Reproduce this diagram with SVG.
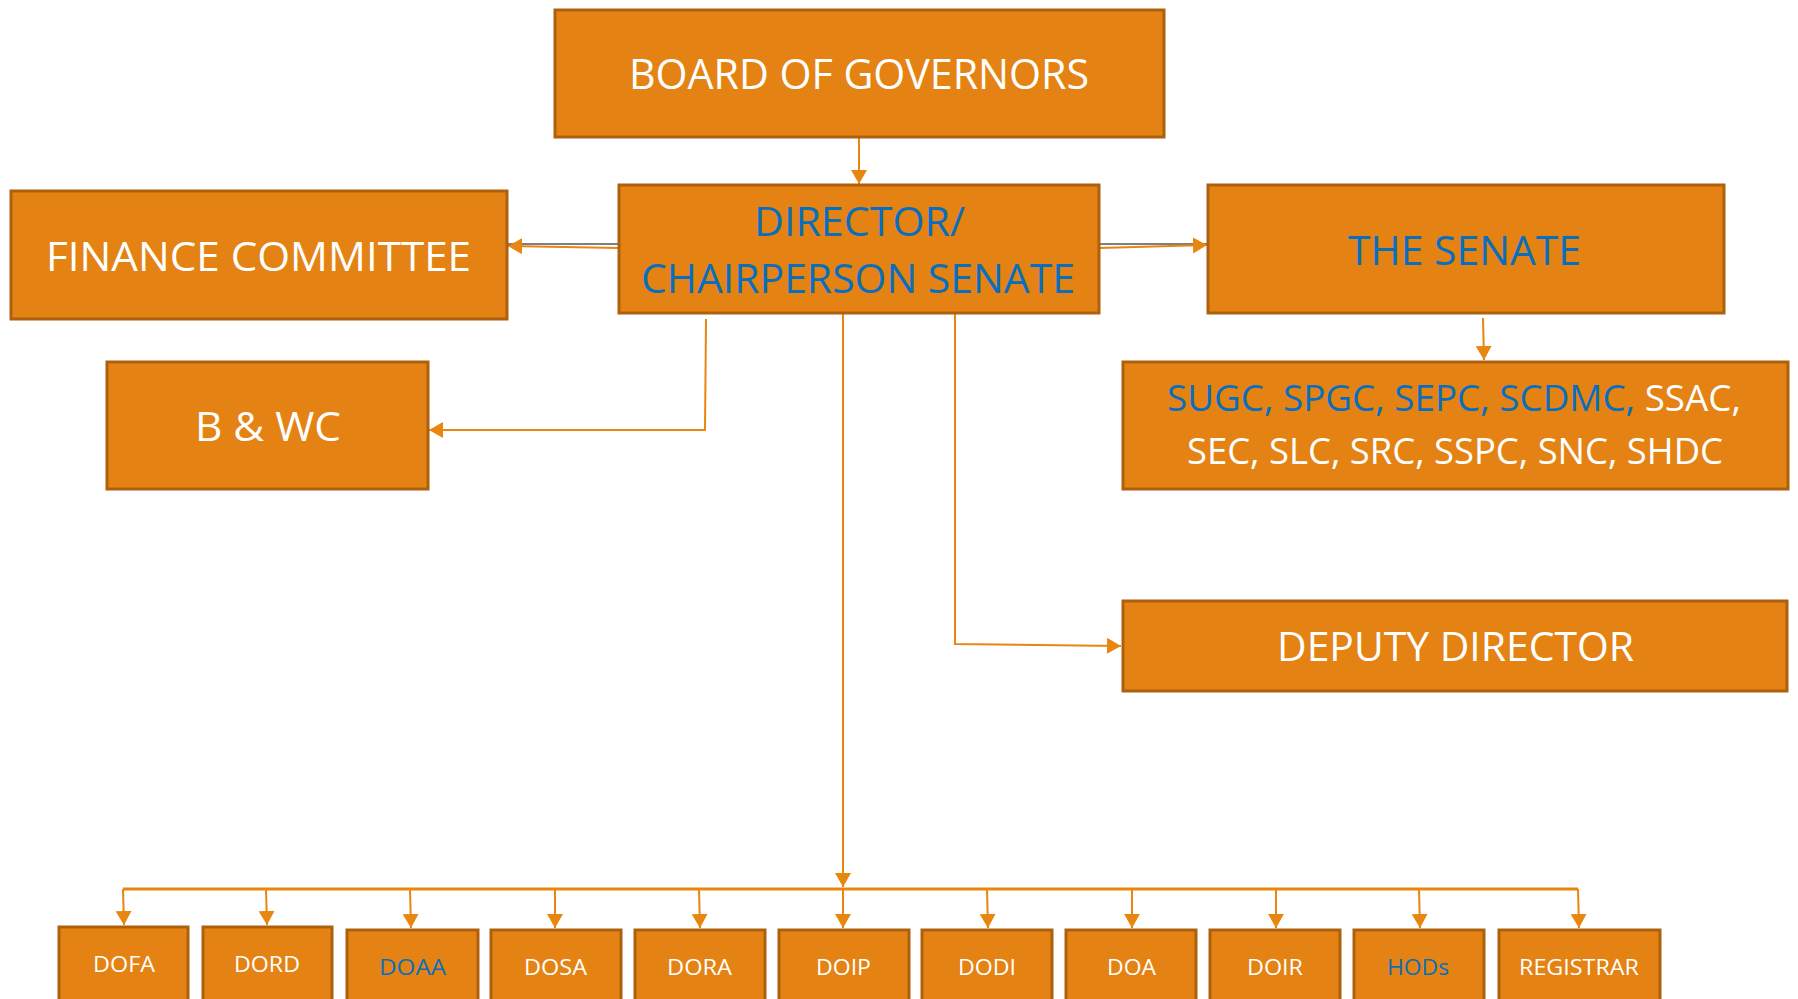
<svg xmlns="http://www.w3.org/2000/svg" width="1798" height="999" viewBox="0 0 1798 999">
<style>
.box{fill:#E48313;stroke:#AF600E;stroke-width:3}
.t{font-family:"Open Sans","Liberation Sans",sans-serif;text-anchor:middle}
.w{fill:#FFFFFF}
.b{fill:#0A6EBE}
.c{fill:none;stroke:#E8860F;stroke-width:2}
.g{fill:none;stroke:#7F7F7F;stroke-width:2}
</style>
<defs>
<marker id="ah" markerUnits="userSpaceOnUse" markerWidth="18" markerHeight="18" refX="14" refY="8" orient="auto">
<path d="M0,0 L14,8 L0,16 z" fill="#E8860F"/>
</marker>
</defs>
<rect width="1798" height="999" fill="#FFFFFF"/>
<g id="connectors">
<path class="c" d="M859,138 L859,184" marker-end="url(#ah)"/>
<path class="g" d="M507,244 L619,244"/>
<path class="c" d="M619,248 L508,246" marker-end="url(#ah)"/>
<path class="g" d="M1099,244 L1208,244"/>
<path class="c" d="M1099,248 L1207,245" marker-end="url(#ah)"/>
<path class="c" d="M706,319 L705,430 L429,430" marker-end="url(#ah)"/>
<path class="c" d="M1483,318 L1484,360" marker-end="url(#ah)"/>
<path class="c" d="M955,313 L955,644 L1121,646" marker-end="url(#ah)"/>
<path class="c" d="M843,313 L843,887" marker-end="url(#ah)"/>
<path class="c" style="stroke-width:3" d="M123,889 L1578,889"/>
<path class="c" d="M123,889 L124,925" marker-end="url(#ah)"/>
<path class="c" d="M266,889 L267,925" marker-end="url(#ah)"/>
<path class="c" d="M410,889 L411,928" marker-end="url(#ah)"/>
<path class="c" d="M555,889 L555,928" marker-end="url(#ah)"/>
<path class="c" d="M699,889 L700,928" marker-end="url(#ah)"/>
<path class="c" d="M843,889 L843,928" marker-end="url(#ah)"/>
<path class="c" d="M987,889 L988,928" marker-end="url(#ah)"/>
<path class="c" d="M1132,889 L1132,928" marker-end="url(#ah)"/>
<path class="c" d="M1276,889 L1276,928" marker-end="url(#ah)"/>
<path class="c" d="M1419,889 L1420,928" marker-end="url(#ah)"/>
<path class="c" d="M1578,889 L1579,928" marker-end="url(#ah)"/>
</g>
<g id="board"><rect class="box" x="555" y="10" width="609" height="127"/>
<text class="t w" x="859" y="89" font-size="42" textLength="460" lengthAdjust="spacingAndGlyphs">BOARD OF GOVERNORS</text></g>
<g id="director"><rect class="box" x="619" y="185" width="480" height="128"/>
<text class="t b" x="859.5" y="236" font-size="40" textLength="211" lengthAdjust="spacingAndGlyphs">DIRECTOR/</text>
<text class="t b" x="858" y="293" font-size="40" textLength="434" lengthAdjust="spacingAndGlyphs">CHAIRPERSON SENATE</text></g>
<g id="finance"><rect class="box" x="11" y="191" width="496" height="128"/>
<text class="t w" x="258.5" y="271" font-size="41" textLength="425" lengthAdjust="spacingAndGlyphs">FINANCE COMMITTEE</text></g>
<g id="bwc"><rect class="box" x="107" y="362" width="321" height="127"/>
<text class="t w" x="268" y="441" font-size="41" textLength="146" lengthAdjust="spacingAndGlyphs">B &amp; WC</text></g>
<g id="senate"><rect class="box" x="1208" y="185" width="516" height="128"/>
<text class="t b" x="1464.5" y="265" font-size="41" textLength="233" lengthAdjust="spacingAndGlyphs">THE SENATE</text></g>
<g id="committees"><rect class="box" x="1123" y="362" width="665" height="127"/>
<text class="t" x="1454" y="411" font-size="36" textLength="574" lengthAdjust="spacingAndGlyphs"><tspan class="b">SUGC, SPGC, SEPC, SCDMC, </tspan><tspan class="w">SSAC,</tspan></text>
<text class="t w" x="1455" y="464" font-size="36" textLength="536" lengthAdjust="spacingAndGlyphs">SEC, SLC, SRC, SSPC, SNC, SHDC</text></g>
<g id="deputy"><rect class="box" x="1123" y="601" width="664" height="90"/>
<text class="t w" x="1455.5" y="661" font-size="40" textLength="357" lengthAdjust="spacingAndGlyphs">DEPUTY DIRECTOR</text></g>
<g id="dofa"><rect class="box" x="59" y="927" width="129" height="90"/>
<text class="t w" x="124" y="972" font-size="22" textLength="62" lengthAdjust="spacingAndGlyphs">DOFA</text></g>
<g id="dord"><rect class="box" x="203" y="927" width="129" height="90"/>
<text class="t w" x="267" y="972" font-size="22" textLength="66" lengthAdjust="spacingAndGlyphs">DORD</text></g>
<g id="doaa"><rect class="box" x="347" y="930" width="131" height="90"/>
<text class="t b" x="412.5" y="975" font-size="22" textLength="67" lengthAdjust="spacingAndGlyphs">DOAA</text></g>
<g id="dosa"><rect class="box" x="491" y="930" width="130" height="90"/>
<text class="t w" x="555.5" y="975" font-size="22" textLength="63" lengthAdjust="spacingAndGlyphs">DOSA</text></g>
<g id="dora"><rect class="box" x="635" y="930" width="130" height="90"/>
<text class="t w" x="699.5" y="975" font-size="22" textLength="65" lengthAdjust="spacingAndGlyphs">DORA</text></g>
<g id="doip"><rect class="box" x="779" y="930" width="130" height="90"/>
<text class="t w" x="843.5" y="975" font-size="22" textLength="55" lengthAdjust="spacingAndGlyphs">DOIP</text></g>
<g id="dodi"><rect class="box" x="922" y="930" width="130" height="90"/>
<text class="t w" x="987" y="975" font-size="22" textLength="58" lengthAdjust="spacingAndGlyphs">DODI</text></g>
<g id="doa"><rect class="box" x="1066" y="930" width="130" height="90"/>
<text class="t w" x="1131.5" y="975" font-size="22" textLength="49" lengthAdjust="spacingAndGlyphs">DOA</text></g>
<g id="doir"><rect class="box" x="1210" y="930" width="130" height="90"/>
<text class="t w" x="1275" y="975" font-size="22" textLength="56" lengthAdjust="spacingAndGlyphs">DOIR</text></g>
<g id="hods"><rect class="box" x="1354" y="930" width="130" height="90"/>
<text class="t b" x="1418" y="975" font-size="22" textLength="62" lengthAdjust="spacingAndGlyphs">HODs</text></g>
<g id="registrar"><rect class="box" x="1499" y="930" width="161" height="90"/>
<text class="t w" x="1579" y="975" font-size="22" textLength="120" lengthAdjust="spacingAndGlyphs">REGISTRAR</text></g>
</svg>
